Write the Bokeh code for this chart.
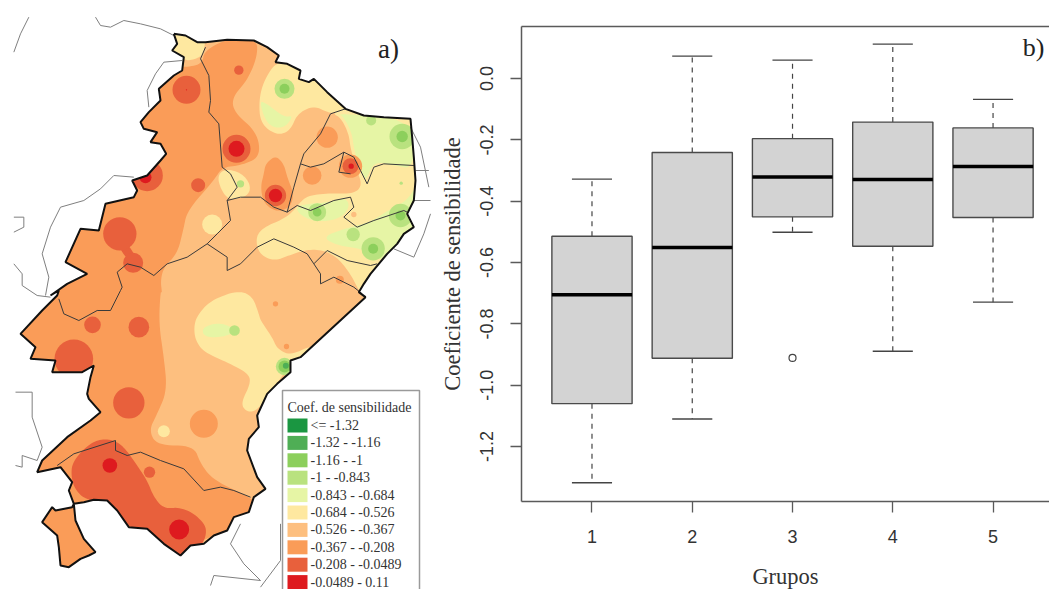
from bokeh.embed import file_html
from bokeh.resources import INLINE
from bokeh.plotting import figure
from bokeh.layouts import row
from bokeh.models import Range1d, FixedTicker, LinearAxis
from bokeh.core.properties import value

# ---------- boxplot data ----------
GROUPS = [1, 2, 3, 4, 5]
Q3 = [-0.514, -0.241, -0.196, -0.142, -0.161]
MEDIAN = [-0.705, -0.551, -0.321, -0.329, -0.287]
Q1 = [-1.060, -0.912, -0.451, -0.547, -0.453]
WHISK_HI = [-0.328, 0.073, 0.060, 0.112, -0.068]
WHISK_LO = [-1.318, -1.110, -0.501, -0.889, -0.729]
OUTLIER_X = [3]
OUTLIER_Y = [-0.911]
Y_TICKS = [0.0, -0.2, -0.4, -0.6, -0.8, -1.0, -1.2]
Y_LABELS = ["0.0", "-0.2", "-0.4", "-0.6", "-0.8", "-1.0", "-1.2"]

# ---------- legend ----------
LEG_LABELS = ["<= -1.32", "-1.32 - -1.16", "-1.16 - -1", "-1 - -0.843", "-0.843 - -0.684",
              "-0.684 - -0.526", "-0.526 - -0.367", "-0.367 - -0.208", "-0.208 - -0.0489", "-0.0489 - 0.11"]
LEG_COLORS = ["#1A9641", "#4FAE55", "#8CCF5C", "#B9E27F", "#E6F5A5",
              "#FEE8A0", "#FDBF7F", "#FA9C58", "#E8603C", "#DE1A1F"]
C1, C2, C3, C4, C5, C6, C7, C8, C9, C10 = LEG_COLORS

# ---------- map geometry, in the map's own coordinate frame ----------
def z2(pts): return [(x / 3, y / 3) for x, y in pts]
def z3(pts): return [(x / 3, 290 + y / 3) for x, y in pts]
def z6(pts): return [(250 + x / 3, 90 + y / 3) for x, y in pts]
def z7(pts): return [(140 + x / 3, 240 + y / 3) for x, y in pts]

OUTLINE = (
    z2([(520,100),(555,105),(590,125),(615,125),(680,118),(760,120),(800,140),(835,165),(825,185),(860,190),
        (900,210),(895,235),(925,245),(940,235),(980,275),(1035,325),(1090,345),(1150,350),(1230,355),(1235,410),
        (1240,470),(1245,540),(1240,600),(1220,640),(1240,680),(1210,700),(1190,730),(1160,760),(1135,790),
        (1110,820),(1090,850),(1075,875),(1095,890)])
    + z3([(900,200),(870,210),(870,245),(830,280),(800,310),(770,375),(775,410),(745,445),(740,480),(770,560),
          (795,595),(760,620),(745,665),(700,680),(680,720),(640,735),(610,760),(570,765),(540,795),(490,760),
          (440,715),(385,710),(350,660),(320,630),(280,628),(250,635),(220,640),
          (225,690),(250,745),(285,785),(265,795),(240,805),(205,830),(180,825),(175,770),(170,735),(125,695),
          (155,650),(165,660),(215,650),(220,640),(205,600),(215,575),(180,530),(110,545),(125,510),(200,440),
          (270,390),(300,365),(265,325),(260,310),(270,260),(280,225),(245,245),(155,245),(165,210),(90,205),
          (105,170),(60,130),(125,60),(170,15),(175,0)])
    + z2([(150,885),(200,850),(260,820),(195,785),(240,685),(295,690),(315,610),(400,590),(410,570),(395,540),
          (440,525),(480,480),(497,460),(480,430),(450,425),(470,395),(430,385),(420,365),(445,335),(480,300),
          (475,265),(520,225),(545,210),(550,170),(515,150),(530,130)])
)

NEIGHBOURS = [
    z2([(40,155),(60,100),(85,50)]),
    z2([(285,50),(300,75),(330,80),(370,60),(420,70),(480,85),(520,105)]),
    z2([(545,180),(490,185),(465,220),(440,270),(445,320)]),
    z2([(400,530),(340,525),(300,565),(250,600),(180,620),(150,680),(125,760),(145,830),(135,885)]),
    z2([(40,650),(70,650),(70,680),(40,695)]),
    z2([(40,790),(65,820),(65,855),(110,885),(150,890)]),
    z2([(1230,380),(1260,440),(1285,560)]),
    z2([(1245,510),(1285,510)]),
    z2([(1240,600),(1290,600)]),
    z2([(1290,640),(1270,700),(1240,770),(1180,745)]),
    z3([(45,305),(95,305),(95,380),(125,470),(110,510),(65,495),(65,530),(45,525)]),
    z3([(720,700),(690,760),(730,820),(780,870),(640,855),(630,885)]),
    z3([(840,700),(840,810),(780,890)]),
]

STATE_LINES = [
    z2([(615,140),(600,175),(625,225),(630,300),(625,335),(655,370),(665,500),(690,520),(710,560),(680,600),
        (690,660),(650,700),(620,730),(560,770),(500,790),(460,825),(420,800),(380,790),(350,815),(365,860),(360,870)])
    + z3([(330,60),(290,60),(235,90),(190,70),(175,25)]),
    z2([(1035,325),(990,340),(960,400),(910,460),(900,490),(930,500),(970,490),(1030,455),(1060,470),(1080,510),
        (1100,550),(1120,500),(1150,490),(1240,495)]),
    z2([(1030,455),(1015,515),(1050,520)]),
    z2([(900,490),(880,560),(860,635)]),
    z2([(680,600),(720,590),(780,590),(820,620),(860,635),(890,615),(930,630),(1000,600),(1050,590),(1060,620),
        (1030,650),(1070,680),(1120,660),(1210,630),(1220,635)]),
    z2([(620,730),(680,770),(680,810),(720,790),(770,740),(820,715),(880,740),(920,760),(940,790),(980,750),
        (1040,780),(1110,795),(1130,790)]),
    z2([(940,790),(960,820),(960,850),(1000,830),(1060,860),(1085,880)]),
    z3([(345,450),(345,480),(380,495),(420,485),(480,510),(550,535),(610,600),(660,590),(700,600),(750,620)]),
    z3([(345,450),(220,490),(170,525)]),
]

# filled classes, painted in this order and cut to the outline by the mask
AREAS = [
    (C8, z2([(612,150),(680,115),(770,115),(770,170),(740,240),(695,290),(700,335),(770,395),(780,470),(720,495),
             (665,500),(640,540),(560,630),(548,690),(530,760),(490,800),(480,840),(485,880)])
         + z3([(480,0),(475,100),(490,200),(500,300),(470,370),(445,420),(470,465),(580,465),(600,520),(640,570),
               (750,620),(790,660),(680,720),(480,800),(300,880),(30,880),(30,0)])
         + z2([(100,700),(300,500),(480,200),(560,200),(605,190)])),
    (C8, z2([(795,490),(825,465),(850,490),(860,530),(880,580),(870,620),(830,635),(790,610),(780,560),(790,520)])),
    (C6, z2([(505,90),(615,90),(612,150),(600,170),(560,182),(545,170),(505,170)])),
    (C6, z2([(830,180),(790,240),(775,300),(780,370),(830,405),(870,390),(890,340),(940,315),(990,340),(1035,335),
             (1060,300),(980,240),(900,190)])),
    (C6, z6([(245,70),(270,80),(295,130),(300,175),(320,240),(335,285),(310,310),(240,308),(170,315),(140,345),
             (130,360),(100,385),(40,410),(15,440),(25,490),(70,512),(115,495),(165,478),(215,478),(260,500),
             (300,550),(325,600),(345,630),(540,630),(540,20),(300,20)])),
    (C6, z2([(650,530),(670,505),(720,515),(750,550),(745,585),(690,600),(665,575)])),
    (C6, z7([(170,225),(210,180),(290,150),(335,165),(355,220),(360,240),(395,290),(410,325),(450,345),(510,315),
             (515,335),(450,370),(395,450),(350,510),(320,515),(300,490),(330,430),(325,400),(270,370),(190,335),
             (165,300),(160,260)])),
    (C5, z6([(260,68),(490,85),(492,235),(430,225),(370,212),(345,275),(330,240),(310,175),(305,130),(280,80)])),
    (C5, z6([(500,280),(500,420),(400,520),(340,475),(260,465),(215,440),(280,415),(360,395),(420,355),(470,330)])),
    (C5, z6([(135,350),(170,340),(240,335),(280,320),(300,345),(270,385),(200,395),(150,375)])),
    (C5, z2([(775,300),(800,310),(850,350),(880,345),(850,385),(800,375)])),
    (C5, z7([(185,260),(240,245),(290,270),(250,290),(190,290)])),
    (C9, z3([(215,515),(260,465),(300,445),(345,450),(375,475),(410,525),(440,570),(460,620),(490,655),(540,650),
             (590,675),(625,720),(590,790),(540,810),(480,770),(360,690),(345,640),(260,630),(225,600),(212,560)])),
    (C9, z2([(345,720),(375,720),(410,775),(380,780)])),
]

SPOT_X, SPOT_Y, SPOT_R, SPOT_C = [], [], [], []
def spots(conv, rows):
    for x, y, r, c in rows:
        px, py = conv([(x, y)])[0]
        SPOT_X.append(px); SPOT_Y.append(py); SPOT_R.append(r / 3); SPOT_C.append(c)

spots(z2, [(558,268,42,C9),(558,268,2,C10),(715,209,14,C9),(593,554,21,C9),(440,525,47,C9),(435,530,18,C10),
           (358,700,50,C9),(398,787,30,C9),(708,445,42,C9),(708,445,24,C10),(825,585,32,C9),(825,585,20,C10),
           (935,525,28,C8),(980,410,32,C8),(1050,497,35,C8),(1050,497,24,C9),(1052,497,8,C10),
           (852,265,30,C4),(852,265,15,C3),(720,550,11,C4),(635,672,30,C6)])
spots(z3, [(276,103,25,C9),(415,110,31,C9),(385,337,47,C9),(220,205,58,C9),(610,400,42,C8),(490,422,18,C6),
           (447,545,17,C9),(328,525,22,C10),(536,717,30,C10)])
spots(z6, [(455,138,38,C4),(455,138,17,C3),(200,365,27,C4),(200,365,13,C3),(450,375,35,C4),(450,375,15,C3),
           (308,432,20,C4),(368,475,35,C4),(368,475,15,C3),(362,90,15,C4),(452,278,5,C4),(310,372,8,C7),
           (268,568,12,C8)])
spots(z7, [(282,270,16,C4),(405,190,8,C8),(438,318,8,C8),(432,378,26,C4),(432,378,18,C3),(436,376,9,C2)])


def smooth(pts, rounds=3):
    for _ in range(rounds):
        out = []
        for i, (a, b) in enumerate(pts):
            c, d = pts[(i + 1) % len(pts)]
            out += [(0.75 * a + 0.25 * c, 0.75 * b + 0.25 * d), (0.25 * a + 0.75 * c, 0.25 * b + 0.75 * d)]
        pts = out
    return pts


# ---------- map panel ----------
XMIN, XMAX, YTOP, YBOT = 0, 436, 0, 589
m = figure(width=XMAX - XMIN, height=YBOT - YTOP, x_range=Range1d(XMIN, XMAX), y_range=Range1d(YBOT, YTOP),
           x_axis_type=None, y_axis_type=None, toolbar_location=None, output_backend="svg",
           min_border=0, outline_line_color=None, frame_align=False)
m.grid.visible = False

ox, oy = [p[0] for p in OUTLINE], [p[1] for p in OUTLINE]
m.patch(ox, oy, fill_color=C7, line_color=None)
for col, pts in AREAS:
    sm = smooth(pts)
    m.patch([p[0] for p in sm], [p[1] for p in sm], fill_color=col, line_color=None)
m.circle(x=SPOT_X, y=SPOT_Y, radius=SPOT_R, fill_color=SPOT_C, line_color=None)

rect_x = [XMIN - 5, XMAX + 5, XMAX + 5, XMIN - 5]
rect_y = [YTOP - 5, YTOP - 5, YBOT + 5, YBOT + 5]
m.multi_polygons(xs=[[[rect_x, ox]]], ys=[[[rect_y, oy]]], fill_color="white", line_color=None)

for seg in NEIGHBOURS:
    m.line([p[0] for p in seg], [p[1] for p in seg], line_color="#7f7f7f", line_width=1)
for seg in STATE_LINES:
    m.line([p[0] for p in seg], [p[1] for p in seg], line_color="#3a3a3a", line_width=1)
m.line(ox + ox[:1], oy + oy[:1], line_color="#111111", line_width=2)

m.text(x=[388], y=[48], text=["a)"], text_font=value("Liberation Serif"), text_font_size="27px",
       text_color="#222222", text_align="center", text_baseline="middle")

# legend
LEG_LEFT, LEG_RIGHT, LEG_TOP = 282, 419, 390
ROW0, ROWSTEP = 425, 17.4
m.quad(left=[LEG_LEFT], right=[LEG_RIGHT], top=[LEG_TOP], bottom=[YBOT + 5], fill_color="white",
       line_color="#9a9a9a", line_width=1.5)
m.text(x=[LEG_LEFT + 5], y=[407], text=["Coef. de sensibilidade"], text_font=value("Liberation Serif"),
       text_font_size="14px", text_color="#333333", text_baseline="middle")
rows_y = [ROW0 + i * ROWSTEP for i in range(len(LEG_LABELS))]
m.quad(left=[LEG_LEFT + 5] * 10, right=[LEG_LEFT + 25] * 10, top=[y - 7 for y in rows_y],
       bottom=[y + 7 for y in rows_y], fill_color=LEG_COLORS, line_color=None)
m.text(x=[LEG_LEFT + 28] * 10, y=rows_y, text=LEG_LABELS, text_font=value("Liberation Serif"),
       text_font_size="14px", text_color="#333333", text_baseline="middle")

# ---------- boxplot panel ----------
GREY = "#5a5a5a"
b = figure(frame_width=528, frame_height=475, min_border_left=85, min_border_right=0, min_border_top=26,
           min_border_bottom=88, x_range=Range1d(0.297, 5.563), y_range=Range1d(-1.379, 0.1696),
           toolbar_location=None, output_backend="svg", outline_line_color=None, frame_align=False)
b.grid.visible = False

b.segment(GROUPS, Q3, GROUPS, WHISK_HI, line_color="#444444", line_width=1.2, line_dash="5 5")
b.segment(GROUPS, Q1, GROUPS, WHISK_LO, line_color="#444444", line_width=1.2, line_dash="5 5")
b.vbar(x=GROUPS, width=0.8, top=Q3, bottom=Q1, fill_color="#D3D3D3", line_color="#4a4a4a", line_width=1.4)
b.segment([g - 0.4 for g in GROUPS], MEDIAN, [g + 0.4 for g in GROUPS], MEDIAN, line_color="black", line_width=3.5)
b.segment([g - 0.2 for g in GROUPS], WHISK_HI, [g + 0.2 for g in GROUPS], WHISK_HI, line_color="#444444", line_width=1.4)
b.segment([g - 0.2 for g in GROUPS], WHISK_LO, [g + 0.2 for g in GROUPS], WHISK_LO, line_color="#444444", line_width=1.4)
b.scatter(OUTLIER_X, OUTLIER_Y, size=7, marker="circle", fill_color=None, line_color="#444444", line_width=1.2)

ya = b.yaxis[0]
ya.ticker = FixedTicker(ticks=Y_TICKS)
ya.major_label_overrides = dict(zip(Y_TICKS, Y_LABELS))
ya.major_label_orientation = "vertical"
ya.major_label_text_font = "Liberation Sans"
ya.major_label_text_font_size = "18px"
ya.major_label_text_color = "#333333"
ya.major_label_standoff = 17
ya.axis_label = "Coeficiente de sensibilidade"
ya.axis_label_text_font = "Liberation Serif"
ya.axis_label_text_font_size = "22.5px"
ya.axis_label_text_font_style = "normal"
ya.axis_label_text_color = "#333333"
ya.axis_label_standoff = 13

xa = b.xaxis[0]
xa.ticker = FixedTicker(ticks=GROUPS)
xa.major_label_text_font = "Liberation Sans"
xa.major_label_text_font_size = "18px"
xa.major_label_text_color = "#333333"
xa.major_label_standoff = 17
xa.axis_label = "Grupos"
xa.axis_label_text_font = "Liberation Serif"
xa.axis_label_text_font_size = "22.5px"
xa.axis_label_text_font_style = "normal"
xa.axis_label_text_color = "#333333"
xa.axis_label_standoff = 18

for ax in (xa, ya):
    ax.axis_line_color = GREY
    ax.axis_line_width = 1.5
    ax.major_tick_line_color = GREY
    ax.major_tick_line_width = 1.3
    ax.major_tick_in = 0
    ax.major_tick_out = 11
    ax.minor_tick_line_color = None

top = LinearAxis(ticker=FixedTicker(ticks=[]), axis_line_color=GREY, axis_line_width=1.5,
                 major_tick_line_color=None, minor_tick_line_color=None, major_label_text_font_size="0px")
b.add_layout(top, "above")

b.text(x=[5.404], y=[0.101], text=["b)"], text_font=value("Liberation Serif"), text_font_size="26px",
       text_color="#222222", text_align="center", text_baseline="middle")

layout = row(m, b, spacing=0)
open("out.html", "w").write(file_html(layout, INLINE))
